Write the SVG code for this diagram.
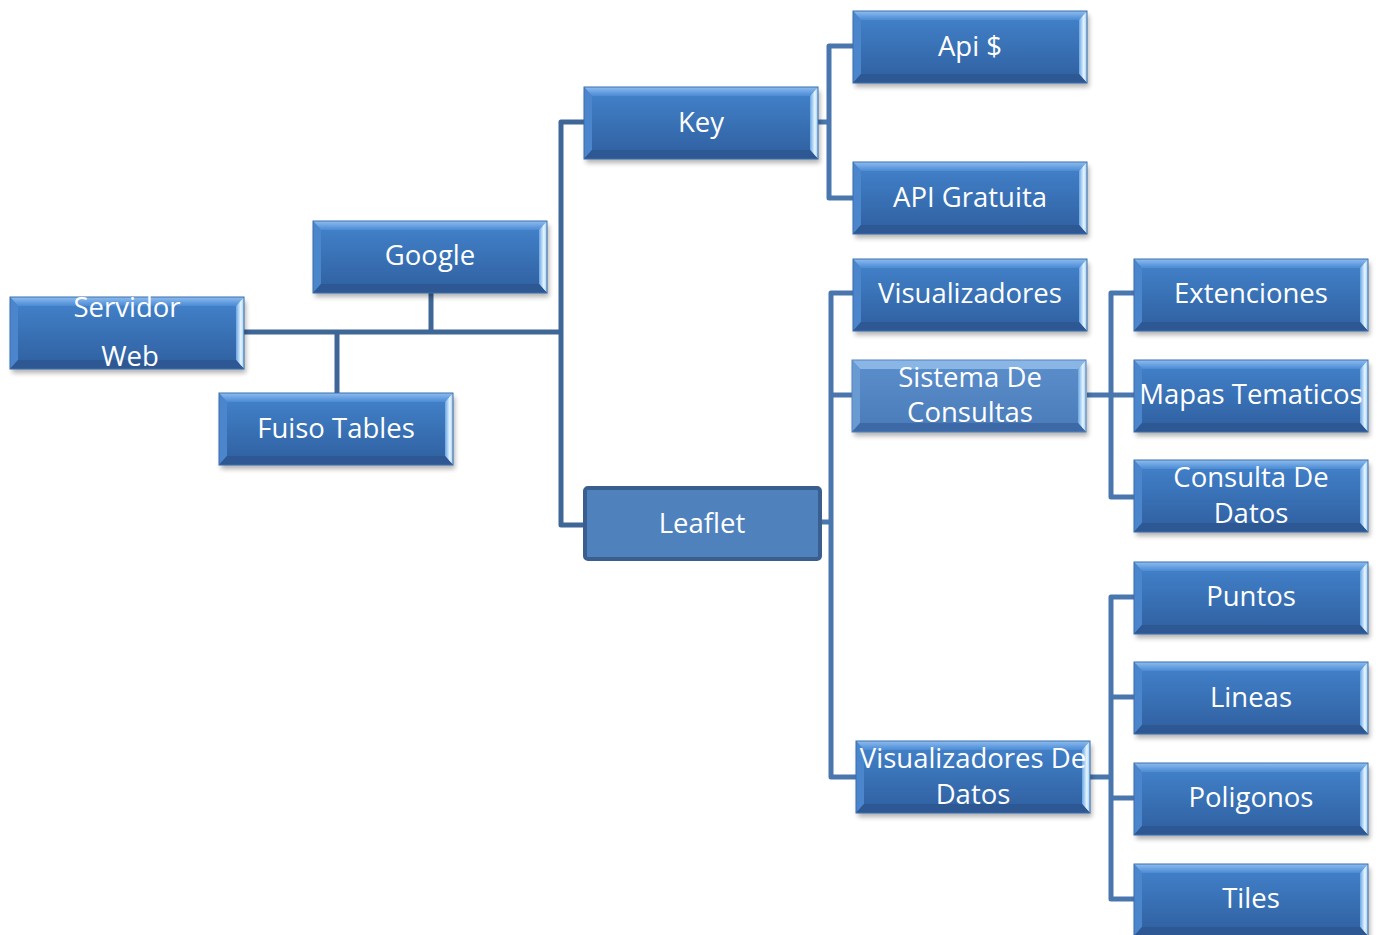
<svg xmlns="http://www.w3.org/2000/svg" xmlns:xlink="http://www.w3.org/1999/xlink" width="1379" height="935" viewBox="0 0 1379 935">
  <style>
    .lbl { font-family: "Open Sans", "Liberation Sans", sans-serif; font-size: 27.5px; fill: #ffffff; text-anchor: middle; dominant-baseline: central; }
    .conn { fill: none; stroke: #4a76ae; stroke-width: 5; stroke-linejoin: round; stroke-linecap: butt; }
    .conn-root { stroke: #3e6696; }
  </style>
  <defs>
    <linearGradient id="faceGrad" x1="0" y1="0" x2="0" y2="1">
      <stop offset="0" stop-color="#4383cc"/>
      <stop offset="1" stop-color="#2f5f9f"/>
    </linearGradient>
    <linearGradient id="faceGradLight" x1="0" y1="0" x2="0" y2="1">
      <stop offset="0" stop-color="#5b8fcc"/>
      <stop offset="1" stop-color="#4a7bb8"/>
    </linearGradient>
    <linearGradient id="topBevel" x1="0" y1="0" x2="0" y2="1">
      <stop offset="0" stop-color="#8dbdf0"/>
      <stop offset="1" stop-color="#4b8ad4"/>
    </linearGradient>
    <linearGradient id="rightBevel" x1="0" y1="0" x2="1" y2="0">
      <stop offset="0" stop-color="#6aa6e4"/>
      <stop offset="0.6" stop-color="#e6f6ff"/>
      <stop offset="1" stop-color="#9ccaf2"/>
    </linearGradient>
    <filter id="shadow" x="-10%" y="-20%" width="120%" height="150%">
      <feGaussianBlur stdDeviation="2.5"/>
    </filter>
    <!-- standard bevelled box, 234 x 72 -->
    <g id="box">
      <rect x="2" y="4" width="234" height="72" fill="#000" opacity="0.3" filter="url(#shadow)"/>
      <rect x="0" y="0" width="234" height="72" fill="url(#faceGrad)"/>
      <polygon points="0,0 234,0 226,9 8,9" fill="url(#topBevel)"/>
      <polygon points="0,0 8,9 8,63 0,72" fill="#4b85cb"/>
      <polygon points="234,0 226,9 226,63 234,72" fill="url(#rightBevel)"/>
      <polygon points="0,72 8,63 226,63 234,72" fill="#2d5893"/>
      <rect x="0" y="0" width="234" height="72" fill="none" stroke="#3c6fae" stroke-width="1"/>
    </g>
    <!-- lighter variant -->
    <g id="boxLight">
      <rect x="2" y="4" width="234" height="72" fill="#000" opacity="0.3" filter="url(#shadow)"/>
      <rect x="0" y="0" width="234" height="72" fill="url(#faceGradLight)"/>
      <polygon points="0,0 234,0 226,9 8,9" fill="#8ab6e6"/>
      <polygon points="0,0 8,9 8,63 0,72" fill="#6a9ad2"/>
      <polygon points="234,0 226,9 226,63 234,72" fill="url(#rightBevel)"/>
      <polygon points="0,72 8,63 226,63 234,72" fill="#3d6aa6"/>
      <rect x="0" y="0" width="234" height="72" fill="none" stroke="#5583bd" stroke-width="1"/>
    </g>
  </defs>

  <rect width="1379" height="935" fill="#ffffff"/>

  <!-- connectors -->
  <g id="connectors">
    <path class="conn conn-root" d="M244,332 H563 M431,292 V332 M337,332 V393"/>
    <path class="conn conn-root" d="M584,122 H561 V525 H584"/>
    <path class="conn" d="M818,122 H829 M853,46 H829 V198 H853"/>
    <path class="conn" d="M821,522 H831 M853,293 H831 V777 H856 M831,395 H853"/>
    <path class="conn" d="M1087,395 H1134 M1134,293 H1111 V497 H1134"/>
    <path class="conn" d="M1090,777 H1111 M1134,597 H1111 V899 H1134 M1111,697 H1134 M1111,798 H1134"/>
  </g>

  <g id="servidor-web">
    <use xlink:href="#box" x="10" y="297"/>
    <text class="lbl" x="127" y="306">Servidor</text>
    <text class="lbl" x="130" y="355">Web</text>
  </g>
  <g id="google">
    <use xlink:href="#box" x="313" y="221"/>
    <text class="lbl" x="430" y="254">Google</text>
  </g>
  <g id="fuiso-tables">
    <use xlink:href="#box" x="219" y="393"/>
    <text class="lbl" x="336" y="427">Fuiso Tables</text>
  </g>
  <g id="key">
    <use xlink:href="#box" x="584" y="87"/>
    <text class="lbl" x="701" y="121">Key</text>
  </g>
  <g id="leaflet">
    <rect x="585" y="488" width="235" height="71" rx="3" fill="#4f81bd" stroke="#3a5f8f" stroke-width="4"/>
    <text class="lbl" x="702" y="522">Leaflet</text>
  </g>
  <g id="api-pago">
    <use xlink:href="#box" x="853" y="11"/>
    <text class="lbl" x="970" y="45">Api $</text>
  </g>
  <g id="api-gratuita">
    <use xlink:href="#box" x="853" y="162"/>
    <text class="lbl" x="970" y="196">API Gratuita</text>
  </g>
  <g id="visualizadores">
    <use xlink:href="#box" x="853" y="259"/>
    <text class="lbl" x="970" y="292">Visualizadores</text>
  </g>
  <g id="sistema-consultas">
    <use xlink:href="#boxLight" x="852" y="360"/>
    <text class="lbl" x="970" y="376">Sistema De</text>
    <text class="lbl" x="970" y="411">Consultas</text>
  </g>
  <g id="visualizadores-datos">
    <use xlink:href="#box" x="856" y="741"/>
    <text class="lbl" x="973" y="757">Visualizadores De</text>
    <text class="lbl" x="973" y="793">Datos</text>
  </g>
  <g id="extenciones">
    <use xlink:href="#box" x="1134" y="259"/>
    <text class="lbl" x="1251" y="292">Extenciones</text>
  </g>
  <g id="mapas-tematicos">
    <use xlink:href="#box" x="1134" y="360"/>
    <text class="lbl" x="1251" y="393">Mapas Tematicos</text>
  </g>
  <g id="consulta-datos">
    <use xlink:href="#box" x="1134" y="460"/>
    <text class="lbl" x="1251" y="476">Consulta De</text>
    <text class="lbl" x="1251" y="512">Datos</text>
  </g>
  <g id="puntos">
    <use xlink:href="#box" x="1134" y="562"/>
    <text class="lbl" x="1251" y="595">Puntos</text>
  </g>
  <g id="lineas">
    <use xlink:href="#box" x="1134" y="662"/>
    <text class="lbl" x="1251" y="696">Lineas</text>
  </g>
  <g id="poligonos">
    <use xlink:href="#box" x="1134" y="763"/>
    <text class="lbl" x="1251" y="796">Poligonos</text>
  </g>
  <g id="tiles">
    <use xlink:href="#box" x="1134" y="864"/>
    <text class="lbl" x="1251" y="897">Tiles</text>
  </g>
</svg>
